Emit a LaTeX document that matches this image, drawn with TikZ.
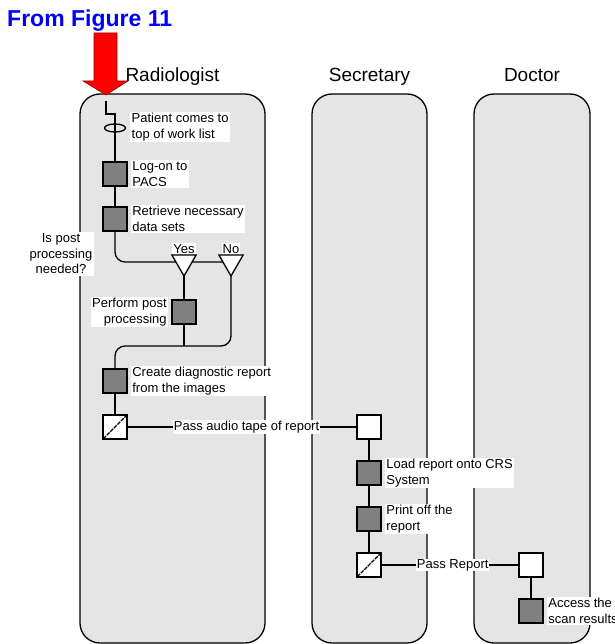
\documentclass[tikz,border=0pt]{standalone}
\usepackage{fontspec}
\setmainfont{Liberation Sans}
\usepackage{xcolor}
\usetikzlibrary{arrows,backgrounds,shapes.geometric,positioning}
\newcommand{\laneTop}{94}
\newcommand{\laneBottom}{643}
\newcommand{\boxSize}{23.5pt}
\newcommand{\smallText}{\fontsize{13}{15.5}\selectfont}
\newcommand{\laneText}{\fontsize{19}{22}\selectfont}
\definecolor{laneGray}{gray}{0.9}
\definecolor{taskGray}{gray}{0.5}
\definecolor{titleBlue}{RGB}{0,0,255}
\tikzset{
  lane/.style={draw, line width=1.3pt, fill=laneGray, rounded corners=20pt},
  lanelabel/.style={anchor=base, inner sep=0pt, font=\laneText},
  task/.style={draw, line width=1.8pt, fill=taskGray, minimum size=\boxSize, inner sep=0pt},
  handoff/.style={draw, line width=1.8pt, fill=white, minimum size=\boxSize, inner sep=0pt},
  sendoff/.style={handoff, path picture={
      \draw[line width=1.3pt, dash pattern=on 4pt off 1pt] (path picture bounding box.south west) -- (path picture bounding box.north east);}},
  decision/.style={draw, line width=1.3pt, fill=white, regular polygon, regular polygon sides=3,
      shape border rotate=180, minimum size=28pt, inner sep=0pt},
  tasktext/.style={fill=white, inner sep=1.5pt, align=left, font=\smallText},
  flow/.style={line width=1.3pt}
}

\begin{document}
\begin{tikzpicture}[x=1pt, y=-1pt]
\useasboundingbox (0,0) rectangle (614,644);

\node[anchor=base west, inner sep=0pt, text=titleBlue, font=\fontsize{23}{26}\selectfont\bfseries] (title) at (7,27) {From Figure 11};

\begin{pgfonlayer}{background}
\draw[lane] (80,\laneTop) rectangle (265,\laneBottom);
\draw[lane] (312,\laneTop) rectangle (427,\laneBottom);
\draw[lane] (474,\laneTop) rectangle (590,\laneBottom);
\end{pgfonlayer}
\node[lanelabel] (radiologist) at (172.5,82) {Radiologist};
\node[lanelabel] (secretary) at (369.5,82) {Secretary};
\node[lanelabel] (doctor) at (532,82) {Doctor};

\fill[red, draw=red!60!black, line width=0.6pt] (94,33) -- (117,33) -- (117,81) -- (128,81) -- (106,95) -- (83,81) -- (94,81) -- cycle;

% radiologist
\coordinate (start) at (106,101);
\node[draw, ellipse, line width=1.3pt, minimum width=21pt, minimum height=8pt, inner sep=0pt] (patient) at (115,128) {};
\node[tasktext, anchor=west] (patientText) at (130,127) {Patient comes to\\top of work list};
\node[task] (logon) at (115,174) {};
\node[tasktext, right=3pt of logon] (logonText) {Log-on to\\PACS};
\node[task] (retrieve) at (115,219) {};
\node[tasktext, right=3pt of retrieve] (retrieveText) {Retrieve necessary\\data sets};
\node[decision] (yesQ) at (184,262) {};
\node[decision] (noQ) at (231,262) {};
\node[font=\smallText, fill=white, inner sep=1pt, above=0pt of yesQ] (yesText) {Yes};
\node[font=\smallText, fill=white, inner sep=1pt, above=0pt of noQ] (noText) {No};
\node[tasktext, align=center] (questionText) at (61,254) {Is post\\processing\\needed?};
\node[task] (perform) at (184,312) {};
\node[tasktext, align=right, left=3pt of perform] (performText) {Perform post\\processing};
\coordinate (merge) at (184,346);
\node[task] (create) at (115,381) {};
\node[tasktext, right=3pt of create] (createText) {Create diagnostic report\\from the images};
\node[sendoff] (passTape) at (115,427) {};

% secretary
\node[handoff] (secStart) at (369,427) {};
\node[task] (load) at (369,473) {};
\node[tasktext, right=3pt of load] (loadText) {Load report onto CRS\\System};
\node[task] (print) at (369,519) {};
\node[tasktext, right=3pt of print] (printText) {Print off the\\report};
\node[sendoff] (passReport) at (369,565) {};

% doctor
\node[handoff] (docStart) at (531,565) {};
\node[task] (access) at (531,611) {};
\node[tasktext, right=3pt of access] (accessText) {Access the\\scan results};

\begin{pgfonlayer}{background}
\draw[flow] (start) -- (106,114) -- (115,114) -- (logon);
\draw[flow] (logon) -- (retrieve);
\draw[flow, rounded corners=10pt] (retrieve) |- (noQ.center);
\draw[flow] (yesQ.center) -- (perform);
\draw[flow] (perform) -- (merge);
\draw[flow, rounded corners=10pt] (noQ.center) |- (create.north |- merge) -- (create);
\draw[flow] (create) -- (passTape);
\draw[flow] (passTape) -- node[tasktext, inner sep=0.5pt, pos=0.52] (tapeText) {Pass audio tape of report} (secStart);
\draw[flow] (secStart) -- (load);
\draw[flow] (load) -- (print);
\draw[flow] (print) -- (passReport);
\draw[flow] (passReport) -- node[tasktext, inner sep=0.5pt, pos=0.52] (reportText) {Pass Report} (docStart);
\draw[flow] (docStart) -- (access);
\end{pgfonlayer}
\end{tikzpicture}
\end{document}
